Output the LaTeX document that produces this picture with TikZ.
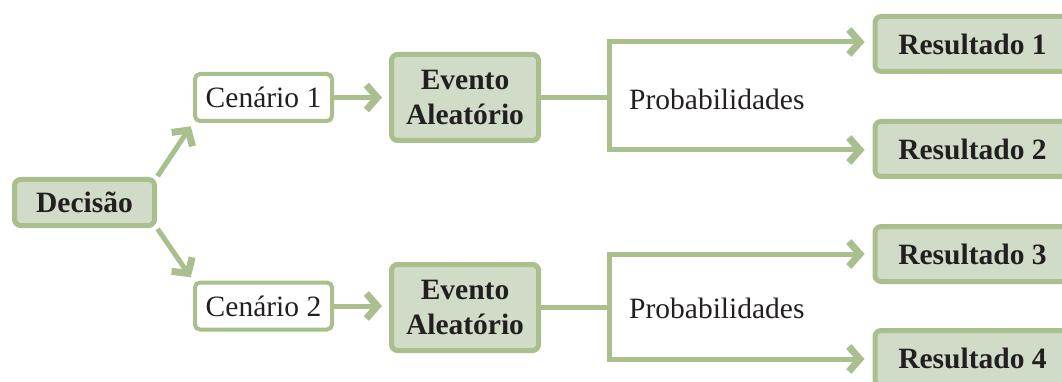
\documentclass[tikz,border=0pt]{standalone}
\usepackage{fontspec}
\setmainfont{Liberation Serif}
\usetikzlibrary{arrows.meta}
\definecolor{sage}{HTML}{A9BF8E}
\definecolor{sagefill}{HTML}{D0DCC7}
\definecolor{ink}{HTML}{231F20}
\tikzset{
  every node/.style={text=ink, font=\fontsize{29.5}{34}\selectfont},
  boldbox/.style={draw=sage, fill=sagefill, line width=5pt, rounded corners=6pt,
    font=\fontsize{29.5}{34}\selectfont\bfseries, inner sep=0pt, align=center},
  plainbox/.style={draw=sage, fill=white, line width=4pt, rounded corners=5pt,
    inner sep=0pt, minimum width=137pt, minimum height=47pt},
  conn/.style={draw=sage, line width=5pt},
  arr/.style={conn, -{Straight Barb[length=11pt, width=25pt, line width=7pt]}},
}
\begin{document}
\begin{tikzpicture}[x=1pt, y=-1pt]
  \useasboundingbox (0,0) rectangle (1062,382);
  \clip (0,0) rectangle (1062,382);

  % decision and scenarios
  \node[boldbox, minimum width=140pt, minimum height=46pt] (dec) at (84.5,202.5) {Decisão};
  \node[plainbox] (c1) at (263.5,97.5) {Cenário 1};
  \node[plainbox] (c2) at (263.5,306) {Cenário 2};

  % random events
  \node[boldbox, minimum width=147pt, minimum height=86pt] (e1) at (465,97.5) {Evento\\[1pt]Aleatório};
  \node[boldbox, minimum width=147pt, minimum height=86pt] (e2) at (465,307.5) {Evento\\[1pt]Aleatório};

  % outcomes
  \node[boldbox, minimum width=195pt, minimum height=55pt] (r1) at (972.5,44) {Resultado 1};
  \node[boldbox, minimum width=195pt, minimum height=55pt] (r2) at (972.5,149) {Resultado 2};
  \node[boldbox, minimum width=195pt, minimum height=55pt] (r3) at (972.5,254) {Resultado 3};
  \node[boldbox, minimum width=195pt, minimum height=55pt] (r4) at (972.5,358) {Resultado 4};

  % probability labels
  \node[anchor=west, inner sep=0pt] (p1) at (629,99) {Probabilidades};
  \node[anchor=west, inner sep=0pt] (p2) at (629,308) {Probabilidades};

  % fork points
  \coordinate (f1) at (609,97.5);
  \coordinate (f2) at (609,307.5);

  % connectors
  \draw[arr, shorten <=1pt, shorten >=4pt] (dec.north east) -- (c1.south west);
  \draw[arr, shorten <=1pt, shorten >=4pt] (dec.south east) -- (c2.north west);
  \draw[arr, shorten >=7pt] (c1.east) -- (e1.west);
  \draw[arr, shorten >=7pt] (c2.east) -- (e2.west |- c2.east);

  \draw[conn] (e1.east) -- (f1);
  \draw[arr, shorten >=8pt] ([yshift=-2.5pt]f1) |- ([yshift=2pt]r1.west);
  \draw[arr, shorten >=8pt] ([yshift=2.5pt]f1) |- ([yshift=-1pt]r2.west);
  \draw[conn] (e2.east) -- (f2);
  \draw[arr, shorten >=8pt] ([yshift=-2.5pt]f2) |- (r3.west);
  \draw[arr, shorten >=8pt] ([yshift=2.5pt]f2) |- ([yshift=-1pt]r4.west);
\end{tikzpicture}
\end{document}
